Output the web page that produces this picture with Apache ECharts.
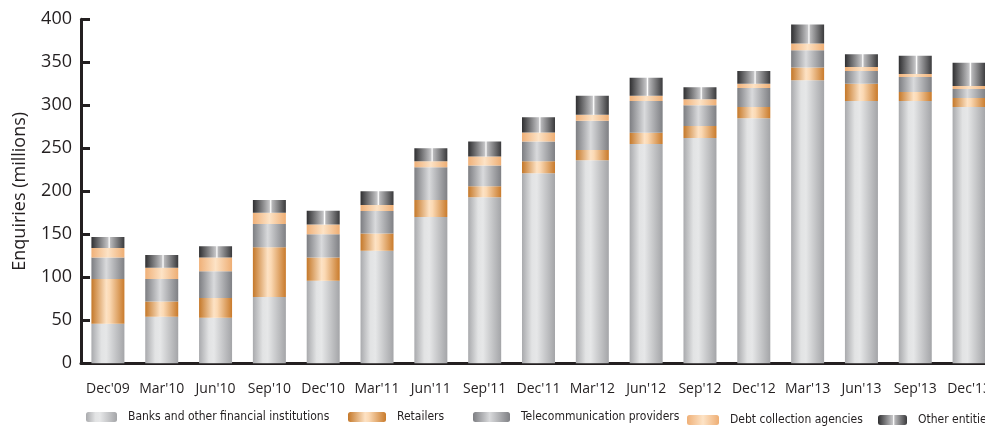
<!DOCTYPE html>
<html>
<head>
<meta charset="utf-8">
<script src="https://cdn.jsdelivr.net/npm/echarts@6/dist/echarts.min.js"></script>
<style>
html,body{margin:0;padding:0;background:#fff;}
#c{width:985px;height:427px;}
</style>
</head>
<body>
<div id="c"></div>
<script>
var categories = ["Dec'09","Mar'10","Jun'10","Sep'10","Dec'10","Mar'11","Jun'11","Sep'11","Dec'11","Mar'12","Jun'12","Sep'12","Dec'12","Mar'13","Jun'13","Sep'13","Dec'13"];
var banks = [46, 54, 53, 77, 96, 131, 170, 193, 221, 236, 255, 262, 285, 329, 305, 305, 298];
var retailers = [52, 18, 23, 58, 27, 20, 20, 13, 14, 12, 13, 14, 13, 15, 20, 10.5, 10.5];
var telecom = [25, 26, 31, 27, 27, 26, 38, 24, 23, 34, 37, 24, 22, 20, 15, 17.5, 10.5];
var debt = [11, 13, 16, 13, 11.5, 7, 7, 10.5, 10.5, 7, 6, 7, 5, 8, 4.5, 3.5, 3.5];
var other = [13, 15, 13, 15, 16, 16, 15, 17.5, 17.5, 22, 21, 14, 15, 22, 15, 21, 27];
var seriesNames = ['Banks and other financial institutions','Retailers','Telecommunication providers','Debt collection agencies','Other entities'];
var yTicks = [0, 50, 100, 150, 200, 250, 300, 350, 400];

function grad(stops){
  return {type:'linear', x:0, y:0, x2:1, y2:0, colorStops: stops.map(function(s){return {offset:s[0], color:s[1]};})};
}
var colors = [
  grad([[0,'#a9aaad'],[0.3,'#e2e3e4'],[0.45,'#e6e7e8'],[1,'#a4a5a8']]),
  grad([[0,'#c4782a'],[0.45,'#fde2c4'],[0.55,'#fbd9b4'],[1,'#c97b2c']]),
  grad([[0,'#7d7e82'],[0.45,'#d9dadc'],[1,'#7f8084']]),
  grad([[0,'#efb078'],[0.5,'#fde3c6'],[1,'#eeae74']]),
  grad([[0,'#2f2f31'],[0.5,'#c4c4c6'],[0.54,'#ffffff'],[0.58,'#b8b8ba'],[1,'#3a3a3c']])
];
var dataSets = [banks, retailers, telecom, debt, other];
var legendLeft = [86, 348, 473, 687, 878];
var legendTop = [411, 411, 411, 414, 414];
var legendW = [31, 38, 37, 32, 29];

var series = seriesNames.map(function(n, i){
  return {
    name: n, type: 'bar', stack: 'all', barWidth: 33,
    itemStyle: {color: colors[i]},
    data: dataSets[i]
  };
});
var legends = seriesNames.map(function(n, i){
  return {
    data: [n], left: legendLeft[i], top: legendTop[i], padding: 0,
    itemWidth: legendW[i], itemHeight: 10,
    selectedMode: false,
    textStyle: {fontFamily: '"DejaVu Sans Condensed","Liberation Sans Narrow",sans-serif', fontSize: 12, color: '#231f20', padding: [0,0,0,6]}
  };
});

var chart = echarts.init(document.getElementById('c'));
chart.setOption({
  animation: false,
  backgroundColor: '#fff',
  grid: {left: 81, width: 915, top: 19.3, bottom: 63.7, outerBoundsMode: 'none', containLabel: false},
  legend: legends,
  xAxis: {
    type: 'category', data: categories,
    axisLine: {lineStyle: {color: '#231f20', width: 3}},
    axisTick: {show: false},
    axisLabel: {fontFamily: '"Open Sans",sans-serif', fontSize: 14, color: '#231f20', margin: 19, interval: 0}
  },
  yAxis: {
    type: 'value', min: 0, max: 400, interval: 50,
    name: 'Enquiries (millions)', nameLocation: 'middle', nameGap: 52,
    nameTextStyle: {fontFamily: '"Open Sans",sans-serif', fontSize: 18, color: '#231f20'},
    axisLine: {show: true, lineStyle: {color: '#231f20', width: 3}},
    axisTick: {show: true, inside: true, length: 9, lineStyle: {color: '#231f20', width: 3}},
    axisLabel: {fontFamily: '"Open Sans",sans-serif', fontSize: 18, color: '#231f20', margin: 9,
      formatter: function(v){ return yTicks.indexOf(v) >= 0 ? String(v) : ''; }},
    splitLine: {show: false}
  },
  series: series
});
</script>
</body>
</html>
